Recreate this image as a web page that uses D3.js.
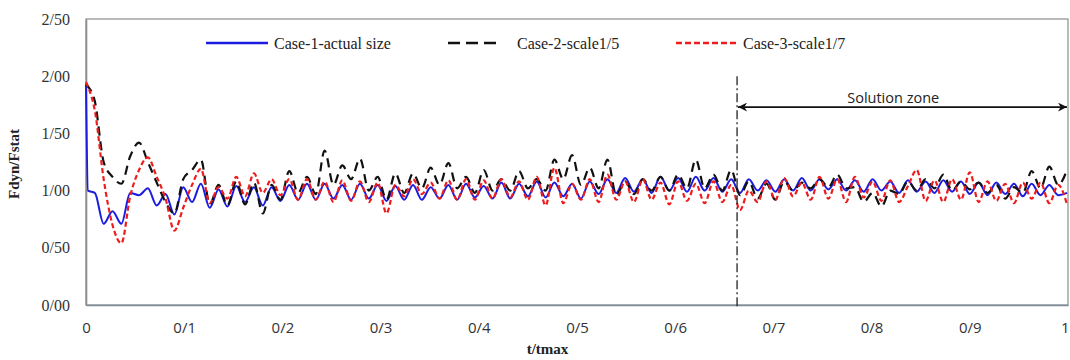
<!DOCTYPE html>
<html>
<head>
<meta charset="utf-8">
<script src="https://cdn.jsdelivr.net/npm/d3@7"></script>
<style>
  body { margin: 0; background: #fff; }
</style>
</head>
<body>
<svg id="chart" width="1070" height="360"></svg>
<script>
// time grid: spike at start, then one sample every 0.009 t/tmax
const time = [0, 0.002].concat(d3.range(1, 112).map(i => +(i * 0.009).toFixed(3)));

const case1 = [1.93, 1.00,
  0.98, 0.71, 0.82, 0.71, 0.98, 0.96, 1.02, 0.87, 0.97, 0.79,
  1.03, 0.90, 1.06, 0.85, 1.01, 0.86, 1.04, 0.90, 1.03, 0.87,
  1.03, 0.91, 1.05, 0.92, 1.06, 0.92, 1.06, 0.93, 1.05, 0.92,
  1.06, 0.93, 1.05, 0.91, 1.04, 0.92, 1.05, 0.92, 1.03, 0.93,
  1.05, 0.92, 1.06, 0.94, 1.04, 0.93, 1.07, 0.93, 1.06, 0.95,
  1.08, 0.94, 1.07, 0.95, 1.06, 0.93, 1.08, 0.97, 1.10, 0.98,
  1.11, 0.99, 1.10, 0.98, 1.12, 1.00, 1.11, 0.99, 1.12, 1.00,
  1.11, 0.99, 1.10, 0.98, 1.10, 1.00, 1.09, 0.99, 1.10, 1.00,
  1.11, 1.00, 1.10, 1.01, 1.10, 1.00, 1.09, 0.99, 1.10, 1.00,
  1.08, 0.98, 1.09, 0.99, 1.08, 0.98, 1.09, 0.99, 1.08, 0.97,
  1.07, 0.96, 1.07, 0.97, 1.06, 0.95, 1.06, 0.96, 1.05, 0.96,
  0.98];

const case2 = [1.93, 1.91,
  1.78, 1.25, 1.12, 1.06, 1.30, 1.42, 1.25, 1.07, 0.90, 0.80,
  1.10, 1.18, 1.27, 0.88, 1.05, 0.87, 1.08, 0.88, 1.07, 0.80,
  1.05, 0.92, 1.17, 0.98, 1.12, 0.97, 1.35, 1.05, 1.22, 1.10,
  1.28, 1.00, 1.12, 0.92, 1.15, 0.98, 1.15, 1.02, 1.20, 1.05,
  1.24, 1.02, 1.12, 0.98, 1.18, 1.00, 1.10, 1.00, 1.17, 1.02,
  1.10, 1.00, 1.27, 1.10, 1.31, 1.05, 1.20, 1.02, 1.27, 0.96,
  1.08, 0.97, 1.10, 1.00, 1.12, 1.00, 1.14, 1.02, 1.27, 1.02,
  1.14, 1.00, 1.18, 0.96, 1.08, 0.93, 1.06, 0.92, 1.08, 1.00,
  1.07, 1.02, 1.10, 1.03, 1.14, 1.02, 1.03, 0.90, 0.98, 0.86,
  1.00, 0.97, 1.08, 1.00, 1.10, 1.02, 1.14, 1.00, 1.08, 1.01,
  1.07, 0.98, 1.05, 0.93, 1.03, 0.98, 1.17, 1.02, 1.21, 1.05,
  1.18];

const case3 = [1.95, 1.91,
  1.70, 1.10, 0.70, 0.54, 0.95, 1.18, 1.29, 1.12, 0.93, 0.65,
  0.85, 1.05, 1.19, 0.89, 1.03, 0.93, 1.12, 0.95, 1.15, 0.98,
  1.10, 0.96, 1.10, 0.92, 1.10, 0.92, 1.08, 0.90, 1.09, 0.91,
  1.08, 0.90, 1.07, 0.80, 1.05, 0.95, 1.10, 0.97, 1.07, 0.93,
  1.09, 0.92, 1.10, 0.92, 1.09, 0.93, 1.10, 0.94, 1.08, 0.92,
  1.12, 0.87, 1.20, 0.89, 1.06, 0.92, 1.10, 0.90, 1.14, 0.92,
  1.08, 0.90, 1.10, 0.92, 1.07, 0.88, 1.08, 0.91, 1.06, 0.89,
  1.08, 0.90, 1.05, 0.83, 1.00, 0.90, 1.08, 0.92, 1.11, 0.95,
  1.07, 0.92, 1.12, 0.93, 1.10, 0.90, 1.12, 0.94, 1.08, 0.91,
  1.09, 0.90, 1.04, 1.18, 0.91, 1.09, 0.90, 1.10, 0.92, 1.16,
  0.90, 1.08, 0.91, 1.06, 0.89, 1.07, 0.93, 1.07, 0.89, 1.05,
  0.88];

const xTicks = [0, 0.1, 0.2, 0.3, 0.4, 0.5, 0.6, 0.7, 0.8, 0.9, 1];
const yTicks = [0, 0.5, 1, 1.5, 2, 2.5];
const seriesNames = ["Case-1-actual size", "Case-2-scale1/5", "Case-3-scale1/7"];
const zoneStart = 0.663;

const svg = d3.select("#chart");
const plotLeft = 86, plotRight = 1068, plotTop = 19, plotBottom = 305;

const x = d3.scaleLinear().domain([0, 1]).range([plotLeft, plotRight]);
const y = d3.scaleLinear().domain([0, 2.5]).range([plotBottom, plotTop]);

// plot frame
svg.append("rect")
  .attr("x", plotLeft).attr("y", plotTop)
  .attr("width", plotRight - plotLeft).attr("height", plotBottom - plotTop)
  .attr("fill", "none").attr("stroke", "#8c8c8c").attr("stroke-width", 1.2);

// axes
const xAxis = svg.append("g")
  .attr("transform", `translate(0,${plotBottom})`)
  .call(d3.axisBottom(x).tickValues(xTicks).tickSize(0).tickPadding(17)
    .tickFormat(d => d === 0 ? "0" : d === 1 ? "1" : d3.format(".1f")(d).replace(".", "/")));
xAxis.select(".domain").attr("stroke", "#7b8c9c").attr("stroke-width", 1.6);
xAxis.selectAll("text").attr("font-family", "'Open Sans', sans-serif").attr("font-size", 15).attr("fill", "#333");
// last label sits right on the window edge: keep it inside
xAxis.selectAll("text").filter(d => d === 1).attr("text-anchor", "end").attr("x", 1);

const yAxis = svg.append("g")
  .attr("transform", `translate(${plotLeft},0)`)
  .call(d3.axisLeft(y).tickValues(yTicks).tickSize(0).tickPadding(16)
    .tickFormat(d => d3.format(".2f")(d).replace(".", "/")));
yAxis.select(".domain").attr("stroke", "#8c8c8c").attr("stroke-width", 1.6);
yAxis.selectAll("text").attr("font-family", "'Liberation Serif', serif").attr("font-size", 16).attr("fill", "#333");

// axis titles
svg.append("text")
  .attr("x", x(0.47)).attr("y", 354)
  .attr("text-anchor", "middle")
  .attr("font-family", "'Liberation Serif', serif").attr("font-weight", "bold").attr("font-size", 15)
  .attr("fill", "#222").text("t/tmax");

svg.append("text")
  .attr("transform", `translate(19,${(plotTop + plotBottom) / 2 + 2}) rotate(-90)`)
  .attr("text-anchor", "middle")
  .attr("font-family", "'Liberation Serif', serif").attr("font-weight", "bold").attr("font-size", 15)
  .attr("fill", "#222").text("Fdyn/Fstat");

// series
const styles = [
  { color: "#1c1ce0", dash: null, width: 2 },
  { color: "#111", dash: "9,6", width: 2.2 },
  { color: "#ee1c1c", dash: "5,3", width: 2.2 }
];
const line = d3.line()
  .x((d, i) => x(time[i]))
  .y(d => y(d))
  .curve(d3.curveMonotoneX);

[case1, case2, case3].forEach((vals, k) => {
  svg.append("path")
    .datum(vals)
    .attr("d", line)
    .attr("fill", "none")
    .attr("stroke", styles[k].color)
    .attr("stroke-width", styles[k].width)
    .attr("stroke-dasharray", styles[k].dash);
});

// solution zone marker
svg.append("line")
  .attr("x1", x(zoneStart)).attr("x2", x(zoneStart))
  .attr("y1", y(2.0)).attr("y2", plotBottom + 3)
  .attr("stroke", "#222").attr("stroke-width", 1.3)
  .attr("stroke-dasharray", "9,3,2,3");

const defs = svg.append("defs");
defs.append("marker")
  .attr("id", "ah").attr("viewBox", "0 0 10 10")
  .attr("refX", 10).attr("refY", 5)
  .attr("markerWidth", 11).attr("markerHeight", 9)
  .attr("markerUnits", "userSpaceOnUse")
  .attr("orient", "auto-start-reverse")
  .append("path").attr("d", "M0,0 L10,5 L0,10 L3,5 Z").attr("fill", "#111");

svg.append("line")
  .attr("x1", x(zoneStart) + 1).attr("x2", x(1) - 1)
  .attr("y1", y(1.73)).attr("y2", y(1.73))
  .attr("stroke", "#111").attr("stroke-width", 1.6)
  .attr("marker-start", "url(#ah)").attr("marker-end", "url(#ah)");

svg.append("text")
  .attr("x", x(0.822)).attr("y", y(1.77))
  .attr("text-anchor", "middle")
  .attr("font-family", "'Open Sans', sans-serif").attr("font-size", 14.5)
  .attr("fill", "#222").text("Solution zone");

// legend
const legendItems = [
  { x1: 206, x2: 268, tx: 274 },
  { x1: 448, x2: 502, tx: 517 },
  { x1: 676, x2: 738, tx: 743 }
];
const legend = svg.append("g");
legendItems.forEach((it, k) => {
  legend.append("line")
    .attr("x1", it.x1).attr("x2", it.x2).attr("y1", 43).attr("y2", 43)
    .attr("stroke", styles[k].color).attr("stroke-width", 2.6)
    .attr("stroke-dasharray", k === 1 ? "12,6" : k === 2 ? "6,3" : null);
  legend.append("text")
    .attr("x", it.tx).attr("y", 48.5)
    .attr("font-family", "'Liberation Serif', serif").attr("font-size", 16)
    .attr("fill", "#222").text(seriesNames[k]);
});
</script>
</body>
</html>
